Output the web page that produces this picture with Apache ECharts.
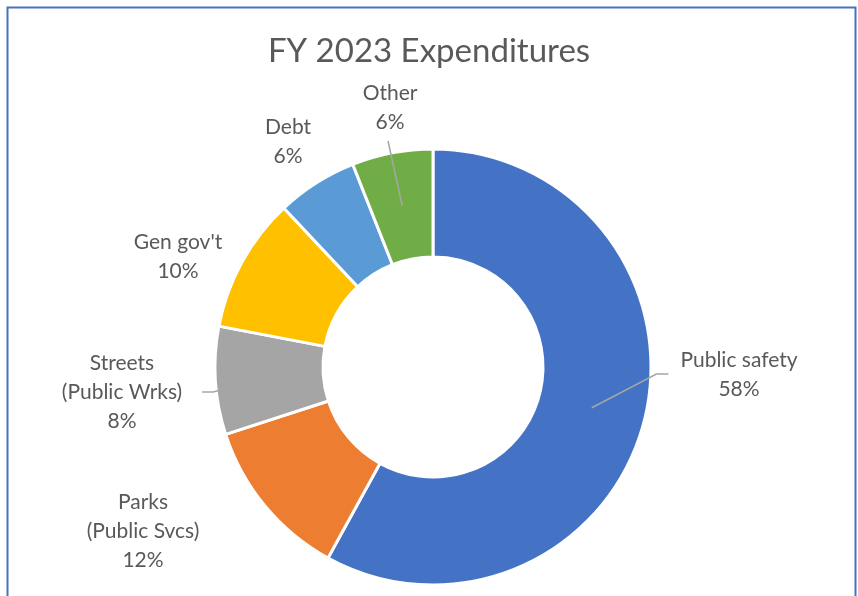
<!DOCTYPE html>
<html>
<head>
<meta charset="utf-8">
<script src="https://cdn.jsdelivr.net/npm/echarts@6/dist/echarts.min.js"></script>
<style>
  html, body { margin: 0; padding: 0; background: #fff; }
  #main { width: 858px; height: 596px; }
</style>
</head>
<body>
<div id="main"></div>
<script>
  // chart data
  const categories = ['Public safety', 'Parks\n(Public Svcs)', 'Streets\n(Public Wrks)', "Gen gov't", 'Debt', 'Other'];
  const values = [58, 12, 8, 10, 6, 6];
  const colors = ['#4472C4', '#ED7D31', '#A5A5A5', '#FFC000', '#5B9BD5', '#70AD47'];

  // layout
  const cx = 433, cy = 367, rIn = 110, rOut = 218;
  const labelPos = [[739, 375], [143, 531], [122, 392], [178, 257], [288, 142], [390, 108]];
  const lineSide = ['left', null, 'right', null, null, 'bottom'];

  const total = values.reduce((a, b) => a + b, 0);
  // point in the middle of the ring, at the middle angle of slice i
  function ringMid(i) {
    let before = 0;
    for (let k = 0; k < i; k++) before += values[k];
    const ang = (90 - 360 * (before + values[i] / 2) / total) * Math.PI / 180;
    const r = (rIn + rOut) / 2;
    return [cx + r * Math.cos(ang), cy - r * Math.sin(ang)];
  }

  const pieBase = {
    type: 'pie',
    center: [cx, cy],
    radius: [rIn, rOut],
    startAngle: 90,
    clockwise: true,
    avoidLabelOverlap: false,
    animation: false,
    silent: true
  };

  const chart = echarts.init(document.getElementById('main'));
  chart.setOption({
    backgroundColor: '#fff',
    title: {
      text: 'FY 2023 Expenditures',
      left: 'center',
      top: 30,
      textStyle: { fontFamily: 'Lato', fontSize: 33, fontWeight: 'normal', color: '#595959' }
    },
    graphic: [{
      type: 'rect',
      shape: { x: 7.5, y: 7.5, width: 848, height: 600 },
      style: { fill: 'none', stroke: '#4472C4', lineWidth: 2 },
      silent: true
    }],
    series: [
      // slices
      Object.assign({}, pieBase, {
        z: 2,
        itemStyle: { borderColor: '#fff', borderWidth: 3 },
        label: { show: false },
        labelLine: { show: false },
        data: categories.map((name, i) => ({ name: name, value: values[i], itemStyle: { color: colors[i] } }))
      }),
      // labels and leader lines, drawn over the slices
      Object.assign({}, pieBase, {
        z: 3,
        itemStyle: { color: 'rgba(0,0,0,0)', borderWidth: 0 },
        label: {
          show: true,
          position: 'outside',
          formatter: '{b}\n{d}%',
          fontFamily: 'Lato',
          fontSize: 21,
          lineHeight: 29,
          color: '#595959',
          align: 'center'
        },
        labelLine: { show: true, lineStyle: { color: '#A6A6A6', width: 1.5 } },
        labelLayout: function (params) {
          const i = params.dataIndex;
          const p = labelPos[i];
          const w = params.labelRect.width, h = params.labelRect.height;
          const res = { x: p[0], y: p[1], align: 'center', verticalAlign: 'middle' };
          const m = ringMid(i);
          if (lineSide[i] === 'left') {
            const ex = p[0] - w / 2 - 12;
            res.labelLinePoints = [m, [ex - 12, p[1] - 1], [ex, p[1] - 1]];
          } else if (lineSide[i] === 'right') {
            const ex = p[0] + w / 2 + 20;
            res.labelLinePoints = [m, [ex + 11, p[1]], [ex, p[1]]];
          } else if (lineSide[i] === 'bottom') {
            const ey = p[1] + h / 2 + 4;
            res.labelLinePoints = [m, [p[0] - 2, ey], [p[0] - 2, ey]];
          }
          return res;
        },
        data: categories.map((name, i) => ({
          name: name,
          value: values[i],
          labelLine: { show: lineSide[i] !== null }
        }))
      })
    ]
  });
</script>
</body>
</html>
